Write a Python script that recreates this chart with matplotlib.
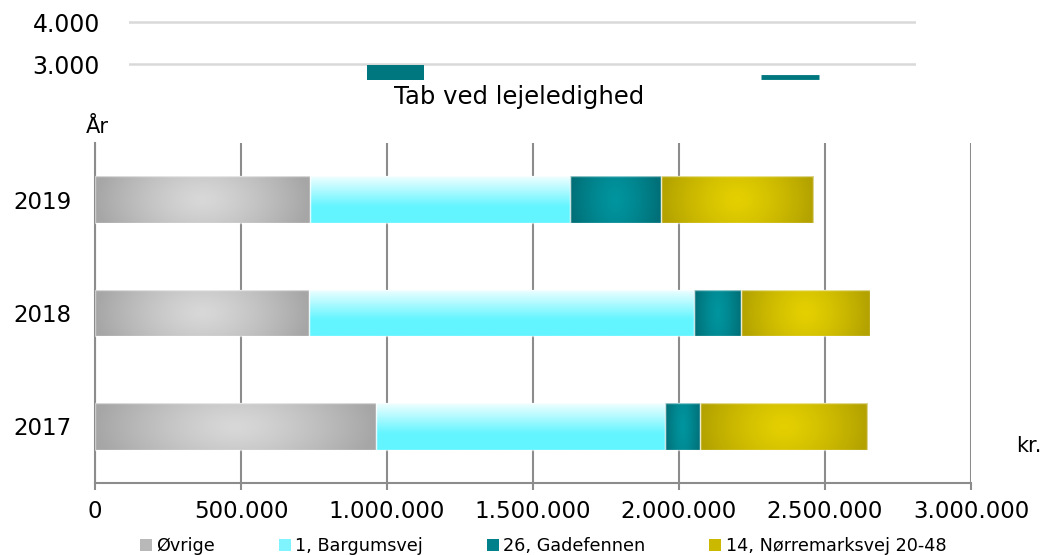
import numpy as np
import matplotlib
matplotlib.use("Agg")
import matplotlib.pyplot as plt
from matplotlib.patches import Patch
from matplotlib.colors import to_rgb
from matplotlib.ticker import FuncFormatter

# Tab ved lejeledighed pr. år (kr.)
years = ["2017", "2018", "2019"]
ovrige = [962000, 733000, 736000]
bargumsvej = [990000, 1317000, 891000]
gadefennen = [120000, 163000, 310000]
norremarksvej = [572000, 441000, 523000]
series_names = ["Øvrige", "1, Bargumsvej", "26, Gadefennen", "14, Nørremarksvej 20-48"]

# rest af diagrammet ovenover (afskåret)
top_ticks = [3000, 4000]
top_bar_value = 2975
top_line_value = 2690

legend_colors = ["#b8b8b8", "#7ff4ff", "#00808a", "#cbb800"]


def num_fmt(v, pos=None):
    return f"{int(round(v)):,}".replace(",", ".")


def gradient_img(kind, n=120):
    u = np.linspace(-1, 1, n)
    v = np.linspace(0, 1, 40)
    U, V = np.meshgrid(u, v)
    if kind == "cyan":
        light = np.array(to_rgb("#effeff"))
        base = np.array(to_rgb("#63f5ff"))
        t = np.clip((V - 0.35) / 0.65, 0, 1)[..., None]
        return base * (1 - t) + light * t
    centers = {"gray": ("#d8d8d8", "#a6a6a6"),
               "teal": ("#00959f", "#006f77"),
               "yellow": ("#e4d000", "#b3a200")}
    c, e = centers[kind]
    r = np.sqrt(U ** 2 + (0.35 * (V - 0.5) * 2) ** 2)
    r = np.clip(r, 0, 1)[..., None] ** 1.3
    return np.array(to_rgb(c)) * (1 - r) + np.array(to_rgb(e)) * r


def shade(ax, bars, kind):
    for rect in bars:
        x, y = rect.get_x(), rect.get_y()
        w, h = rect.get_width(), rect.get_height()
        im = ax.imshow(gradient_img(kind), extent=[x, x + w, y, y + h],
                       origin="lower", aspect="auto", zorder=2,
                       interpolation="bilinear")
        im.set_clip_path(rect)


fig = plt.figure(figsize=(10.46, 5.55), dpi=100)
W, H = 1046, 555

# --- øverste, afskårne diagram ---
axt = fig.add_axes([129 / W, (H - 80) / H, (916 - 129) / W, 80 / H])
axt.set_xlim(0.325, 2.319)
axt.set_ylim(2619, 4524)
axt.bar([1], [top_bar_value - 2500], bottom=2500, width=0.144, color="#00777f", zorder=2)
axt.hlines(top_line_value, 1.926, 2.073, color="#00777f", lw=3.5, zorder=2)
axt.set_yticks(top_ticks)
axt.yaxis.set_major_formatter(FuncFormatter(num_fmt))
axt.grid(axis="y", color="#d9d9d9", lw=1.8)
axt.tick_params(axis="y", length=0, labelsize=17, pad=21)
axt.set_xticks([])
for s in axt.spines.values():
    s.set_visible(False)
axt.set_facecolor("none")

fig.text(519 / W, 1 - 97 / H, "Tab ved lejeledighed", ha="center", va="center",
         fontsize=17.5)

# --- hoveddiagram ---
ax = fig.add_axes([95 / W, (H - 483) / H, (971 - 95) / W, (483 - 143) / H])
y = np.arange(len(years))
h = 0.41
edge = dict(edgecolor=(1, 1, 1, 0.55), linewidth=1.0, zorder=3, facecolor="none")

left = np.zeros(len(years))
kinds = ["gray", "cyan", "teal", "yellow"]
for vals, kind in zip([ovrige, bargumsvej, gadefennen, norremarksvej], kinds):
    bars = ax.barh(y, vals, left=left, height=h, color="none", zorder=2)
    shade(ax, bars, kind)
    ax.barh(y, vals, left=left, height=h, **edge)
    left = left + np.array(vals)

ax.set_xlim(0, 3000000)
ax.set_ylim(-0.5, 2.5)
ax.set_xticks(np.arange(0, 3000001, 500000))
ax.xaxis.set_major_formatter(FuncFormatter(num_fmt))
ax.set_yticks(y)
ax.set_yticklabels(years)
ax.grid(axis="x", color="#8c8c8c", lw=1.5, zorder=1)
ax.set_axisbelow(True)
for s in ["top", "right"]:
    ax.spines[s].set_visible(False)
for s in ["left", "bottom"]:
    ax.spines[s].set_color("#8c8c8c")
    ax.spines[s].set_linewidth(1.5)
ax.tick_params(axis="x", length=5, width=1.5, color="#8c8c8c", labelsize=16.5, pad=7)
ax.tick_params(axis="y", length=0, labelsize=16.5, pad=17)

fig.text(86 / W, 1 - 133 / H, "År", ha="left", va="baseline", fontsize=15)
fig.text(1016 / W, 1 - 452 / H, "kr.", ha="left", va="baseline", fontsize=15)

handles = [Patch(facecolor=c, edgecolor="none") for c in legend_colors]
fig.legend(handles, series_names, loc="center", bbox_to_anchor=(543 / W, 1 - 546 / H),
           ncol=4, frameon=False, fontsize=12.7, handlelength=0.7, handleheight=0.7,
           handletextpad=0.25, columnspacing=3.6)

fig.savefig("out.png", dpi=100)
